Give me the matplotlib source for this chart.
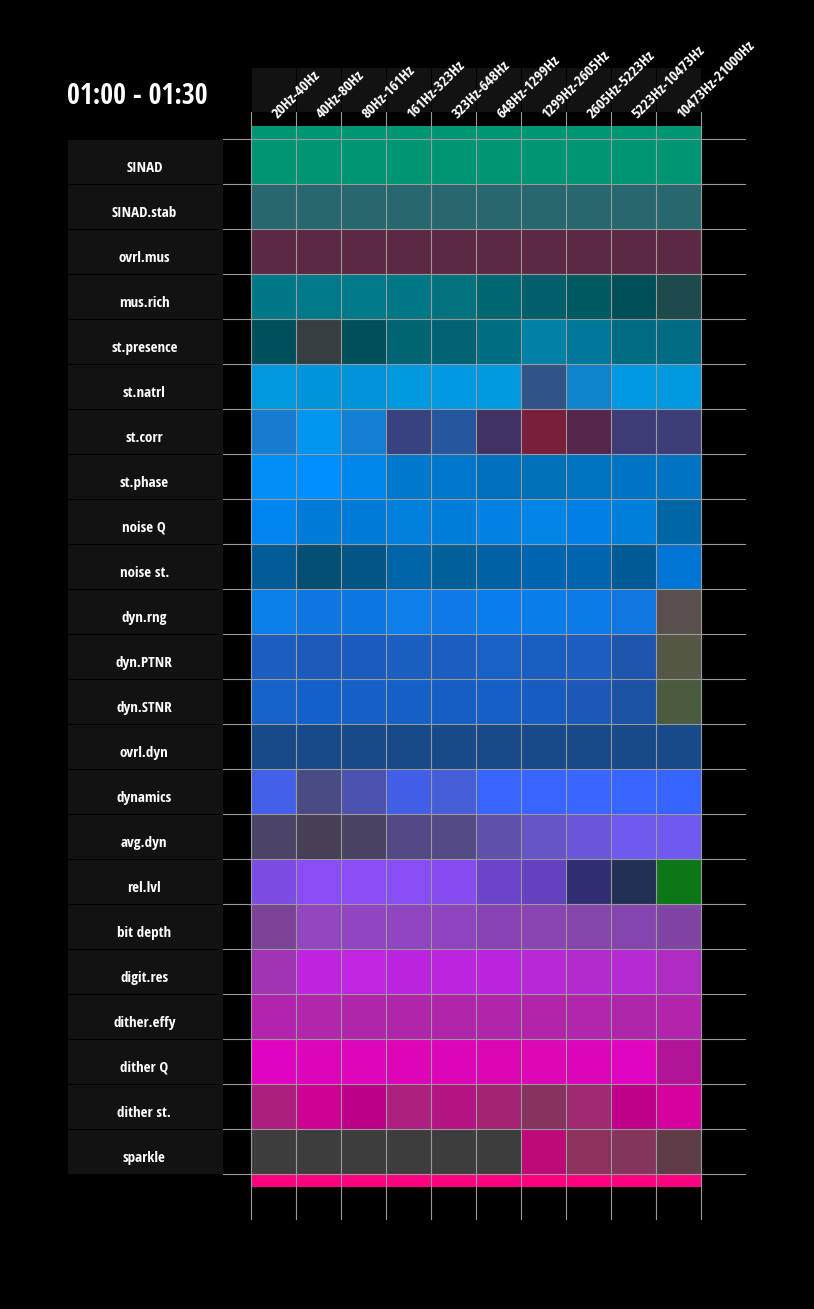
import numpy as np
import matplotlib.pyplot as plt
from matplotlib import font_manager
from matplotlib.colors import to_rgb
from matplotlib.patches import Rectangle

# condensed bold look: take the narrowest family that is installed
installed = {f.name for f in font_manager.fontManager.ttflist}
candidates = ['Open Sans Condensed', 'Roboto Condensed', 'Liberation Sans Narrow',
              'Lato', 'Roboto', 'DejaVu Sans']
family = next(f for f in candidates if f in installed)
plt.rcParams['font.family'] = [family, 'DejaVu Sans']

title = '01:00 - 01:30'

bands = ['20Hz-40Hz', '40Hz-80Hz', '80Hz-161Hz', '161Hz-323Hz', '323Hz-648Hz',
         '648Hz-1299Hz', '1299Hz-2605Hz', '2605Hz-5223Hz', '5223Hz-10473Hz',
         '10473Hz-21000Hz']

metrics = ['SINAD', 'SINAD.stab', 'ovrl.mus', 'mus.rich', 'st.presence', 'st.natrl',
           'st.corr', 'st.phase', 'noise Q', 'noise st.', 'dyn.rng', 'dyn.PTNR',
           'dyn.STNR', 'ovrl.dyn', 'dynamics', 'avg.dyn', 'rel.lvl', 'bit depth',
           'digit.res', 'dither.effy', 'dither Q', 'dither st.', 'sparkle']

# colour of every cell, one list per metric (left -> right = low -> high band)
cell_colors = [
    ['#009674'] * 10,
    ['#26686e'] * 10,
    ['#5b2943'] * 10,
    ['#007886', '#00798a', '#007a8a', '#007785', '#00737f', '#006770', '#005f6a', '#005a61', '#004f56', '#1d4a4c'],
    ['#004f5c', '#373e42', '#004f5a', '#006472', '#006272', '#006d82', '#0081a6', '#007899', '#006b82', '#006b83'],
    ['#0097dd', '#0095db', '#0093da', '#0099e0', '#0099e2', '#0098df', '#315488', '#0f84cd', '#0099e1', '#0098df'],
    ['#167cd0', '#0096ef', '#137fd3', '#38427f', '#26569e', '#403363', '#7a1f3a', '#57264d', '#3e3c77', '#3d3e78'],
    ['#008df5', '#008fff', '#0086e8', '#0079cc', '#0077cc', '#0070bd', '#0070b8', '#0074bf', '#0074c4', '#0074c3'],
    ['#0085f0', '#007bd8', '#007cd8', '#007fdc', '#007dda', '#0082e4', '#0085e6', '#0080e6', '#007edb', '#0066a6'],
    ['#005b96', '#044f74', '#035683', '#0064a8', '#006099', '#0061a4', '#0065b0', '#0065ae', '#005a95', '#0075d6'],
    ['#0a7fe8', '#0d76e0', '#0c76e1', '#0e7eeb', '#0e7ae6', '#097cee', '#097eeb', '#0c7be8', '#1076e0', '#594f4c'],
    ['#1b5ec0', '#1c5ab9', '#1b5abe', '#1b5fc0', '#1c5ebf', '#1961c6', '#1b5ec2', '#1d5dbf', '#1e55ad', '#545744'],
    ['#1562c8', '#1362cb', '#1561c8', '#1561c7', '#165dc4', '#1460c6', '#175cc0', '#1c58b7', '#1d53a3', '#4a5b3f'],
    ['#184989'] * 10,
    ['#4361e8', '#4a4b85', '#4b53ae', '#435ee6', '#455ed8', '#3865ff', '#3865ff', '#3966ff', '#3965ff', '#3664ff'],
    ['#4b4466', '#463f55', '#4a4262', '#534885', '#534a86', '#5e50ab', '#6655c4', '#6c57dc', '#6d5aef', '#6e5aee'],
    ['#7d4ce4', '#8a4cf5', '#8a4df5', '#884ef4', '#864cf0', '#6c44ca', '#6441be', '#302d73', '#223056', '#0c7716'],
    ['#7c4296', '#9346bf', '#9145c0', '#8e45bf', '#8f44bf', '#8942b4', '#8b45b3', '#8645ab', '#8645ae', '#8044a2'],
    ['#a034b4', '#be24de', '#c026e0', '#bb24de', '#bc24de', '#ba24dc', '#b629d4', '#b32acd', '#b62ad4', '#ac2dbf'],
    ['#b224ae', '#b226ac', '#b026a8', '#b025a9', '#b024a9', '#b025a9', '#b225a9', '#b126ac', '#b026ab', '#b324ac'],
    ['#df05c0', '#dd05ba', '#dc06ba', '#dd05b6', '#dc05b8', '#dc05b4', '#dc07b5', '#dd05b9', '#df05c1', '#b11597'],
    ['#ad1f7f', '#cf0094', '#bd0088', '#ae207f', '#b41382', '#a42474', '#84345f', '#9e2a72', '#bf0088', '#d5009e'],
    ['#3d3d3d', '#3d3d3d', '#3d3d3d', '#3d3d3d', '#3d3d3d', '#3d3d3d', '#bd0a78', '#8d325d', '#84355c', '#5e3c48'],
]

top_strip = '#009674'
bottom_strip = '#ff007f'

W, H = 814, 1309
fig = plt.figure(figsize=(W / 100, H / 100), dpi=100, facecolor='black')
# axes covers just the cells: 45 px per cell
ax = fig.add_axes([251 / W, 1 - 1174 / H, 450 / W, 1035 / H])
ax.set_facecolor('black')

n_rows, n_cols = len(metrics), len(bands)
rgb = np.array([[to_rgb(c) for c in row] for row in cell_colors])
ax.imshow(rgb, extent=(0, n_cols, n_rows, 0), aspect='auto', interpolation='nearest')
ax.set_xlim(0, n_cols)
ax.set_ylim(n_rows, 0)
ax.axis('off')

x = np.arange(n_cols) + 0.5
ax.bar(x, 0.29, bottom=-0.29, width=1, color=top_strip, clip_on=False)
ax.bar(x, 0.29, bottom=n_rows, width=1, color=bottom_strip, clip_on=False)

grid_col = '#9a9a9a'
for j in range(n_cols + 1):
    ax.plot([j, j], [-0.6, n_rows + 1.0], color=grid_col, lw=0.8, clip_on=False, zorder=5)
for i in range(n_rows + 1):
    ax.plot([-0.62, n_cols + 0.98], [i, i], color=grid_col, lw=0.8, clip_on=False, zorder=5)

# header boxes + rotated band labels
for j, band in enumerate(bands):
    ax.add_patch(Rectangle((j, -1.6), 1.0, 1.0, facecolor='#121212', edgecolor='black',
                           lw=0.7, clip_on=False))
    ax.text(j + 0.58, -0.45, band, rotation=45, rotation_mode='anchor',
            ha='left', va='baseline', fontsize=11, fontweight='bold', color='white')

# row label boxes
for i, name in enumerate(metrics):
    ax.add_patch(Rectangle((-4.09, i), 3.46, 1.0, facecolor='#121212', edgecolor='black',
                           lw=0.8, clip_on=False))
    ax.text(-2.37, i + 0.64, name, ha='center', va='center',
            fontsize=10.8, fontweight='bold', color='white')

fig.text(67 / W, 1 - 97 / H, title, ha='left', va='center',
         fontsize=20, fontweight='bold', color='white')

fig.savefig('out.png', dpi=100, facecolor='black')
